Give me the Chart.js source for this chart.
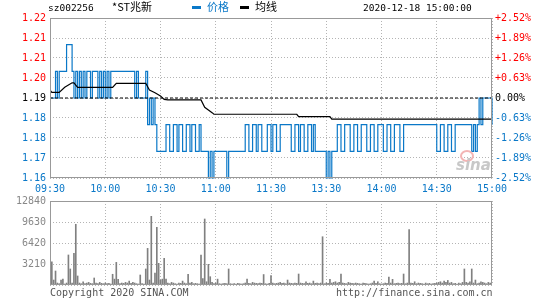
<!DOCTYPE html>
<html>
<head>
<meta charset="utf-8">
<script src="https://cdn.jsdelivr.net/npm/chart.js@4/dist/chart.umd.min.js"></script>
<style>
body { margin: 0; background: #fff; }
#wrap { position: relative; width: 545px; height: 300px; overflow: hidden; font-family: 'DejaVu Sans Mono', monospace; }
canvas { position: absolute; left: 0; }
.t { position: absolute; white-space: nowrap; line-height: 1; }
.cjk { font-family: 'Noto Sans CJK SC', sans-serif; }
</style>
</head>
<body>
<div id="wrap">
    <canvas id="priceChart" width="545" height="200" style="top:0"></canvas>
    <canvas id="volumeChart" width="545" height="110" style="top:190px"></canvas>
    <div class="t" id="code" style="left:48px;top:3px;font-size:9.5px;color:#000"></div>
    <div class="t cjk" id="name" style="left:112px;top:1px;font-size:11px;color:#000"></div>
    <div class="t" style="left:192px;top:6px;width:9px;height:3px;background:#0a78c8"></div>
    <div class="t cjk" id="legPrice" style="left:207px;top:1px;font-size:11px;color:#0a78c8"></div>
    <div class="t" style="left:240px;top:6px;width:9px;height:3px;background:#000"></div>
    <div class="t cjk" id="legAvg" style="left:255px;top:1px;font-size:11px;color:#000"></div>
    <div class="t" id="stamp" style="left:363px;top:3px;font-size:9.5px;color:#000"></div>
    <div class="t" style="left:460px;top:150px;width:10px;height:8px;border:2px solid #f3b5b5;border-radius:50%;"></div>
    <div class="t" style="left:456px;top:156px;font:italic bold 15px 'DejaVu Sans', sans-serif;color:#c8c8c8">sina</div>
    <div class="t" id="copy" style="left:50px;top:288px;font-size:10px;color:#555"></div>
    <div class="t" id="site" style="left:336px;top:288px;font-size:10px;color:#555"></div>
</div>
<script>
const stockCode = 'sz002256';
const stockName = '*ST兆新';
const tradeTime = '2020-12-18 15:00:00';
const legendLabels = ['价格', '均线'];
const footerLeft = 'Copyright 2020 SINA.COM';
const footerRight = 'http://finance.sina.com.cn';

const prevClose = 1.19;
const timeLabels = ['09:30', '10:00', '10:30', '11:00', '11:30', '13:30', '14:00', '14:30', '15:00'];
const priceTicks = [1.16, 1.1675, 1.175, 1.1825, 1.19, 1.1975, 1.205, 1.2125, 1.22];
const priceTickLabels = ['1.16', '1.17', '1.18', '1.18', '1.19', '1.20', '1.21', '1.21', '1.22'];
const pctTickLabels = ['-2.52%', '-1.89%', '-1.26%', '-0.63%', '0.00%', '+0.63%', '+1.26%', '+1.89%', '+2.52%'];
const volumeTicks = [0, 3210, 6420, 9630, 12840];
const volumeTickLabels = ['', '3210', '6420', '9630', '12840'];

// one price per minute, 09:30 .. 15:00
const prices = [
    1.19, 1.19, 1.19, 1.20, 1.19, 1.20, 1.20, 1.20, 1.20, 1.21,
    1.21, 1.21, 1.20, 1.19, 1.20, 1.19, 1.20, 1.19, 1.20, 1.19,
    1.20, 1.20, 1.19, 1.20, 1.20, 1.20, 1.19, 1.20, 1.19, 1.20,
    1.19, 1.20, 1.19, 1.20, 1.20, 1.20, 1.20, 1.20, 1.20, 1.20,
    1.20, 1.20, 1.20, 1.20, 1.20, 1.20, 1.19, 1.20, 1.19, 1.19,
    1.19, 1.19, 1.20, 1.18, 1.19, 1.18, 1.19, 1.18, 1.17, 1.17,
    1.17, 1.17, 1.17, 1.18, 1.18, 1.17, 1.17, 1.18, 1.18, 1.17,
    1.18, 1.18, 1.17, 1.17, 1.18, 1.18, 1.17, 1.18, 1.18, 1.17,
    1.17, 1.18, 1.17, 1.17, 1.17, 1.17, 1.16, 1.17, 1.16, 1.17,
    1.17, 1.17, 1.17, 1.17, 1.17, 1.17, 1.16, 1.17, 1.17, 1.17,
    1.17, 1.17, 1.17, 1.17, 1.17, 1.17, 1.18, 1.18, 1.17, 1.17,
    1.18, 1.18, 1.17, 1.18, 1.18, 1.17, 1.17, 1.17, 1.18, 1.18,
    1.17, 1.18, 1.18, 1.17, 1.17, 1.18, 1.18, 1.18, 1.18, 1.18,
    1.18, 1.17, 1.17, 1.18, 1.18, 1.17, 1.18, 1.18, 1.17, 1.17,
    1.18, 1.18, 1.17, 1.18, 1.17, 1.17, 1.17, 1.17, 1.17, 1.17,
    1.16, 1.17, 1.16, 1.17, 1.17, 1.17, 1.18, 1.18, 1.17, 1.17,
    1.18, 1.18, 1.18, 1.17, 1.17, 1.18, 1.18, 1.17, 1.17, 1.18,
    1.18, 1.18, 1.17, 1.17, 1.18, 1.18, 1.17, 1.17, 1.18, 1.18,
    1.18, 1.17, 1.17, 1.18, 1.18, 1.17, 1.17, 1.18, 1.18, 1.18,
    1.17, 1.17, 1.18, 1.18, 1.18, 1.18, 1.18, 1.18, 1.18, 1.18,
    1.18, 1.18, 1.18, 1.18, 1.18, 1.18, 1.18, 1.18, 1.18, 1.18,
    1.17, 1.17, 1.18, 1.18, 1.17, 1.17, 1.18, 1.18, 1.17, 1.17,
    1.18, 1.18, 1.18, 1.18, 1.18, 1.18, 1.18, 1.18, 1.18, 1.17,
    1.18, 1.17, 1.18, 1.19, 1.18, 1.19, 1.19, 1.19, 1.19, 1.19,
    1.18
];

// average price line, read at its turning points
const avgMinutes = [0, 1, 5, 8, 12, 13, 15, 34, 36, 52, 54, 57, 60, 62, 64, 82, 84, 86, 88, 89, 134, 135, 152, 153, 240];
const avgPrices = [1.1930, 1.1921, 1.1921, 1.1940, 1.1957, 1.1957, 1.1940, 1.1940, 1.1955, 1.1955, 1.1930, 1.1920, 1.1908, 1.1895, 1.1893, 1.1893, 1.1865, 1.1855, 1.1845, 1.1839, 1.1839, 1.1830, 1.1830, 1.1821, 1.1821];

// volume per minute
const volumes = [
    0, 3560, 760, 2140, 300, 200, 760, 900, 150, 300,
    4590, 2450, 300, 4840, 9280, 1380, 300, 200, 500, 200,
    300, 400, 250, 200, 1070, 300, 200, 400, 250, 200,
    300, 200, 250, 150, 1640, 900, 3460, 870, 200, 300,
    250, 400, 300, 600, 250, 400, 300, 200, 150, 1530,
    200, 150, 2450, 5600, 760, 10500, 300, 1830, 8820, 3310,
    760, 900, 4080, 900, 300, 200, 400, 300, 200, 150,
    300, 250, 600, 300, 200, 1640, 300, 400, 200, 250,
    200, 150, 4590, 1000, 10090, 500, 3160, 1270, 400, 200,
    300, 900, 200, 150, 200, 250, 200, 2450, 200, 150,
    200, 150, 250, 200, 150, 200, 300, 900, 250, 200,
    400, 300, 250, 200, 300, 250, 1600, 200, 150, 250,
    1430, 300, 200, 250, 300, 400, 250, 300, 200, 760,
    300, 250, 200, 300, 250, 1680, 300, 250, 200, 500,
    250, 300, 200, 600, 250, 300, 200, 300, 7380, 200,
    300, 250, 870, 300, 400, 500, 300, 400, 1680, 300,
    250, 200, 400, 300, 250, 200, 300, 250, 200, 150,
    300, 250, 200, 150, 200, 300, 600, 250, 500, 200,
    150, 200, 300, 250, 1220, 300, 870, 200, 250, 300,
    200, 250, 1680, 200, 300, 8460, 300, 250, 500, 200,
    300, 250, 200, 150, 300, 200, 250, 150, 200, 250,
    300, 400, 500, 300, 600, 400, 700, 300, 400, 200,
    250, 150, 300, 200, 400, 2450, 400, 300, 500, 2450,
    300, 760, 200, 300, 500, 400, 300, 200, 400, 300,
    200
];

const BLUE = '#0a78c8';
const RED = '#ff0000';
const GRID = '#b4b4b4';
const FRAME = '#999999';
const MONO = "'DejaVu Sans Mono', monospace";

document.getElementById('code').textContent = stockCode;
document.getElementById('name').textContent = stockName;
document.getElementById('legPrice').textContent = legendLabels[0];
document.getElementById('legAvg').textContent = legendLabels[1];
document.getElementById('stamp').textContent = tradeTime;
document.getElementById('copy').textContent = footerLeft;
document.getElementById('site').textContent = footerRight;

const framePlugin = {
    id: 'frame',
    afterDraw: function(chart) {
        const a = chart.chartArea;
        const ctx = chart.ctx;
        ctx.save();
        ctx.strokeStyle = FRAME;
        ctx.lineWidth = 1;
        ctx.strokeRect(Math.round(a.left) + 0.5, Math.round(a.top) + 0.5,
            Math.round(a.right - a.left) - 1, Math.round(a.bottom - a.top) - 1);
        ctx.restore();
    }
};

function tickColor(ctx) {
    if (ctx.index > 4) return RED;
    if (ctx.index === 4) return '#000';
    return BLUE;
}

new Chart(document.getElementById('priceChart'), {
    type: 'line',
    data: {
        datasets: [{
            data: [{ x: 0, y: prevClose }, { x: 240, y: prevClose }],
            borderColor: '#000',
            borderWidth: 1,
            borderDash: [3, 2],
            pointRadius: 0,
            yAxisID: 'y'
        }, {
            data: avgMinutes.map(function(m, i) { return { x: m, y: avgPrices[i] }; }),
            borderColor: '#000',
            borderWidth: 1.2,
            pointRadius: 0,
            tension: 0,
            yAxisID: 'y'
        }, {
            data: prices.map(function(p, i) { return { x: i, y: p }; }),
            borderColor: BLUE,
            borderWidth: 1.2,
            pointRadius: 0,
            stepped: true,
            clip: 2,
            yAxisID: 'y'
        }]
    },
    options: {
        responsive: false,
        devicePixelRatio: 1,
        animation: false,
        events: [],
        layout: { padding: { top: 18, left: 0, right: 0, bottom: 0 } },
        plugins: { legend: { display: false }, tooltip: { enabled: false } },
        scales: {
            x: {
                type: 'linear',
                min: 0,
                max: 240,
                afterFit: function(scale) { scale.height = 22; },
                grid: { color: GRID, drawTicks: false },
                border: { display: false, dash: [1, 2] },
                ticks: {
                    stepSize: 30,
                    autoSkip: false,
                    maxRotation: 0,
                    padding: 5,
                    color: BLUE,
                    font: { family: MONO, size: 10 },
                    callback: function(v) { return timeLabels[v / 30]; }
                }
            },
            y: {
                position: 'left',
                min: priceTicks[0],
                max: priceTicks[priceTicks.length - 1],
                afterBuildTicks: function(scale) {
                    scale.ticks = priceTicks.map(function(v) { return { value: v }; });
                },
                afterFit: function(scale) { scale.width = 50; },
                grid: { color: GRID, drawTicks: false },
                border: { display: false, dash: [1, 2] },
                ticks: {
                    padding: 4,
                    color: tickColor,
                    font: { family: MONO, size: 10 },
                    callback: function(v, i) { return priceTickLabels[i]; }
                }
            },
            y2: {
                position: 'right',
                min: priceTicks[0],
                max: priceTicks[priceTicks.length - 1],
                afterBuildTicks: function(scale) {
                    scale.ticks = priceTicks.map(function(v) { return { value: v }; });
                },
                afterFit: function(scale) { scale.width = 53; },
                grid: { display: false, drawTicks: false },
                border: { display: false },
                ticks: {
                    padding: 3,
                    color: tickColor,
                    font: { family: MONO, size: 10 },
                    callback: function(v, i) { return pctTickLabels[i]; }
                }
            }
        }
    },
    plugins: [framePlugin]
});

new Chart(document.getElementById('volumeChart'), {
    type: 'bar',
    data: {
        datasets: [{
            data: volumes.map(function(v, i) { return { x: i, y: v }; }),
            backgroundColor: '#808080',
            barThickness: 1,
            grouped: false
        }]
    },
    options: {
        responsive: false,
        devicePixelRatio: 1,
        animation: false,
        events: [],
        layout: { padding: { top: 11, left: 0, right: 53, bottom: 0 } },
        plugins: { legend: { display: false }, tooltip: { enabled: false } },
        scales: {
            x: {
                type: 'linear',
                min: 0,
                max: 240,
                offset: false,
                afterFit: function(scale) { scale.height = 15; },
                grid: { color: GRID, drawTicks: false, offset: false },
                border: { display: false, dash: [1, 2] },
                ticks: { stepSize: 30, display: false }
            },
            y: {
                min: volumeTicks[0],
                max: volumeTicks[volumeTicks.length - 1],
                afterBuildTicks: function(scale) {
                    scale.ticks = volumeTicks.map(function(v) { return { value: v }; });
                },
                afterFit: function(scale) { scale.width = 50; },
                grid: { color: GRID, drawTicks: false },
                border: { display: false, dash: [1, 2] },
                ticks: {
                    padding: 4,
                    color: '#888',
                    font: { family: MONO, size: 10 },
                    callback: function(v, i) { return volumeTickLabels[i]; }
                }
            }
        }
    },
    plugins: [framePlugin]
});
</script>
</body>
</html>
